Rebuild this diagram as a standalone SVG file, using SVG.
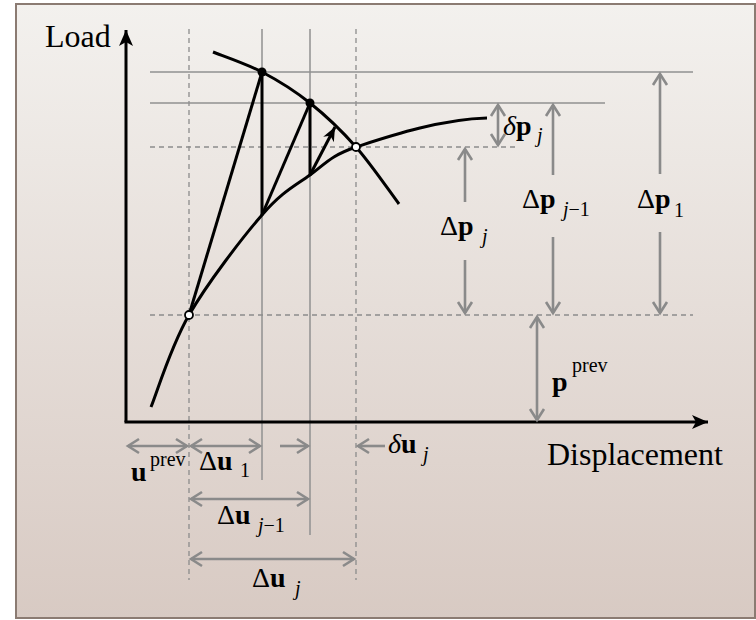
<svg xmlns="http://www.w3.org/2000/svg" width="756" height="620" viewBox="0 0 756 620">
<defs>
<linearGradient id="bg" x1="0" y1="0" x2="0" y2="1">
<stop offset="0" stop-color="#f3f1ee"/>
<stop offset="1" stop-color="#d8cac3"/>
</linearGradient>
<marker id="chev" markerUnits="userSpaceOnUse" markerWidth="20" markerHeight="20" viewBox="-14 -10 16 20" refX="0" refY="0" orient="auto-start-reverse">
<path d="M-11,-7 L0,0 L-11,7" fill="none" stroke="#8a8a8a" stroke-width="2.6" stroke-linejoin="miter"/>
</marker>
<marker id="axh" markerUnits="userSpaceOnUse" markerWidth="24" markerHeight="20" viewBox="-18 -10 20 20" refX="0" refY="0" orient="auto">
<path d="M0,0 L-16,-7 L-12,0 L-16,7 Z" fill="#000"/>
</marker>
<marker id="smh" markerUnits="userSpaceOnUse" markerWidth="20" markerHeight="20" viewBox="-16 -10 18 20" refX="0" refY="0" orient="auto">
<path d="M0,0 L-14,-6 L-10,0 L-14,6 Z" fill="#000"/>
</marker>
</defs>
<style>
.grid{stroke:#909090;stroke-width:1.5;fill:none}
.dash{stroke:#8c8c8c;stroke-width:1.3;fill:none;stroke-dasharray:5 4}
.gar{stroke:#8a8a8a;stroke-width:2.6;fill:none}
.blk{stroke:#000;stroke-width:3;fill:none}
.t{font-family:"Liberation Serif","Times New Roman",serif;fill:#000}
.b{font-weight:bold}
.i{font-style:italic}
.m{font-size:28px}
.s{font-size:20px}
</style>
<rect x="16" y="4" width="739" height="614" fill="url(#bg)" stroke="#8b7b72" stroke-width="2"/>

<g id="grid">
<line class="dash" x1="189" y1="29" x2="189" y2="580"/>
<line class="grid" x1="262" y1="29" x2="262" y2="480"/>
<line class="grid" x1="310" y1="29" x2="310" y2="535"/>
<line class="dash" x1="356" y1="29" x2="356" y2="580"/>
<line class="grid" x1="150" y1="72" x2="693" y2="72"/>
<line class="grid" x1="150" y1="103" x2="605" y2="103"/>
<line class="dash" x1="150" y1="147" x2="517" y2="147"/>
<line class="dash" x1="150" y1="315" x2="693" y2="315"/>
</g>

<g id="axes">
<line class="blk" x1="126" y1="422" x2="126" y2="30" marker-end="url(#axh)"/>
<line class="blk" x1="124.5" y1="422" x2="708" y2="422" marker-end="url(#axh)"/>
<text class="t" x="45" y="47" font-size="32">Load</text>
<text class="t" x="547" y="465" font-size="32">Displacement</text>
</g>

<g id="equilibrium-curve">
<path class="blk" d="M151,407 C157.3,391.7 170.5,347 189,315 C207.5,283 241.8,238.3 262,215 C282.2,191.7 294.3,186.3 310,175 C325.7,163.7 330,156 356,147 C385.5,137.5 440,119 487,118"/>
</g>

<g id="constraint-curve">
<path class="blk" d="M213,52 C221.2,55.3 245.8,63.5 262,72 C278.2,80.5 294.3,90.5 310,103 C325.7,115.5 341.2,130.2 356,147 C370.8,163.8 391.8,194.5 399,204"/>
</g>

<g id="connectors">
<line class="blk" x1="189" y1="315" x2="262" y2="72"/>
<line class="blk" x1="262" y1="72" x2="262" y2="215"/>
<line class="blk" x1="262" y1="215" x2="310" y2="103"/>
<line class="blk" x1="310" y1="103" x2="310" y2="175"/>
<line class="blk" x1="310" y1="175" x2="335" y2="127" marker-end="url(#smh)"/>

<line class="gar" x1="498" y1="105" x2="498" y2="145" marker-start="url(#chev)" marker-end="url(#chev)"/>
<line class="gar" x1="465" y1="202" x2="465" y2="149" marker-end="url(#chev)"/>
<line class="gar" x1="465" y1="260" x2="465" y2="313" marker-end="url(#chev)"/>
<line class="gar" x1="553" y1="175" x2="553" y2="105" marker-end="url(#chev)"/>
<line class="gar" x1="553" y1="237" x2="553" y2="313" marker-end="url(#chev)"/>
<line class="gar" x1="660" y1="174" x2="660" y2="74" marker-end="url(#chev)"/>
<line class="gar" x1="660" y1="232" x2="660" y2="313" marker-end="url(#chev)"/>
<line class="gar" x1="537" y1="317" x2="537" y2="420" marker-start="url(#chev)" marker-end="url(#chev)"/>

<line class="gar" x1="128" y1="446" x2="187" y2="446" marker-start="url(#chev)" marker-end="url(#chev)"/>
<line class="gar" x1="191" y1="446" x2="260" y2="446" marker-start="url(#chev)" marker-end="url(#chev)"/>
<line class="gar" x1="280" y1="446" x2="308" y2="446" marker-end="url(#chev)"/>
<line class="gar" x1="385" y1="446" x2="358" y2="446" marker-end="url(#chev)"/>
<line class="gar" x1="191" y1="499" x2="308" y2="499" marker-start="url(#chev)" marker-end="url(#chev)"/>
<line class="gar" x1="191" y1="559" x2="354" y2="559" marker-start="url(#chev)" marker-end="url(#chev)"/>
</g>

<g id="points">
<circle cx="262" cy="72" r="4.5" fill="#000"/>
<circle cx="310" cy="103" r="4.5" fill="#000"/>
<circle cx="189" cy="315" r="4" fill="#fff" stroke="#000" stroke-width="1.8"/>
<circle cx="356" cy="147" r="4" fill="#fff" stroke="#000" stroke-width="1.8"/>
</g>

<g id="labels">
<text class="t m" x="503" y="135"><tspan class="i">δ</tspan><tspan class="b">p</tspan><tspan class="i s" x="537" y="142">j</tspan></text>
<text class="t m" x="440" y="235">Δ<tspan class="b">p</tspan><tspan class="i s" x="482" y="243">j</tspan></text>
<text class="t m" x="522" y="208">Δ<tspan class="b">p</tspan><tspan class="s" x="563" y="216"><tspan class="i">j</tspan>−1</tspan></text>
<text class="t m" x="637" y="208">Δ<tspan class="b">p</tspan><tspan class="s" x="674" y="217">1</tspan></text>
<text class="t m" x="552" y="391"><tspan class="b">p</tspan><tspan class="s" x="572" y="372">prev</tspan></text>
<text class="t m" x="131" y="481"><tspan class="b">u</tspan><tspan class="s" x="150" y="466">prev</tspan></text>
<text class="t m" x="199" y="470">Δ<tspan class="b">u</tspan><tspan class="s" x="240" y="477">1</tspan></text>
<text class="t m" x="388" y="453"><tspan class="i">δ</tspan><tspan class="b">u</tspan><tspan class="i s" x="423" y="461">j</tspan></text>
<text class="t m" x="217" y="524">Δ<tspan class="b">u</tspan><tspan class="s" x="258" y="532"><tspan class="i">j</tspan>−1</tspan></text>
<text class="t m" x="252" y="587">Δ<tspan class="b">u</tspan><tspan class="i s" x="295" y="595">j</tspan></text>
</g>
</svg>
